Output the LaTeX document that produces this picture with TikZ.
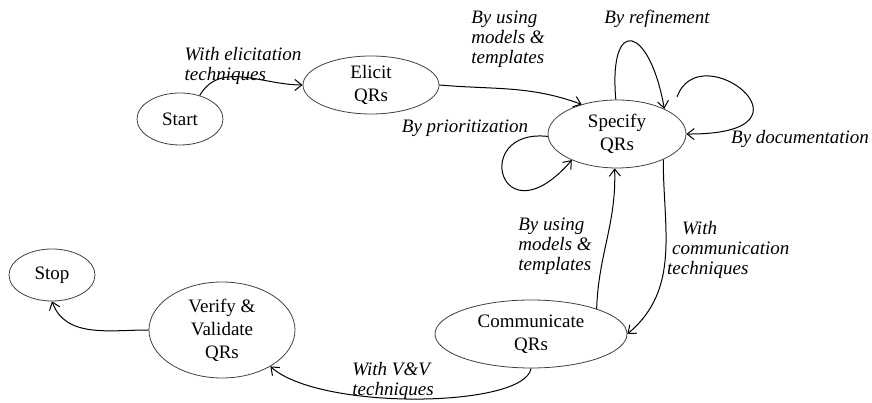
\documentclass[tikz,border=0pt]{standalone}
\usepackage{fontspec}
\setmainfont{Liberation Serif}
\usetikzlibrary{shapes.geometric, arrows.meta}
\tikzstyle{qrstate} = [ellipse, draw=black!75, line width=0.8pt, inner sep=0pt, align=center, font=\fontsize{19}{23}\selectfont]
\tikzstyle{how} = [align=left, inner sep=0pt, font=\itshape\fontsize{19}{20}\selectfont]
\tikzstyle{arrow} = [line width=1pt,->,>={Straight Barb[length=7pt,width=11pt]}]

\begin{document}
\begin{tikzpicture}[x=1pt, y=1pt]
\useasboundingbox (0,0) rectangle (872,403);

% States of the QR process
\node (start) [qrstate, minimum width=86, minimum height=52] at (180,284) {Start};
\node (elicit) [qrstate, minimum width=136, minimum height=58] at (371,318) {Elicit\\QRs};
\node (specify) [qrstate, minimum width=138, minimum height=68] at (617,269) {Specify\\QRs};
\node (communicate) [qrstate, minimum width=192, minimum height=68] at (531,69) {Communicate\\QRs};
\node (verify) [qrstate, minimum width=146, minimum height=96] at (222,73) {Verify \&\\Validate\\QRs};
\node (stop) [qrstate, minimum width=86, minimum height=52] at (52,128) {Stop};

% Labels of the transitions
\node (howElicit) [how] at (243,337) {With elicitation\\techniques};
\node (howModels) [how] at (508,364) {By using\\models \&\\templates};
\node (howRefine) [how] at (657,384) {By refinement};
\node (howDoc) [how] at (800,264) {By documentation};
\node (howPrior) [how] at (465,275) {By prioritization};
\node (howModelsBack) [how] at (555,157) {By using\\models \&\\templates};
\node (howComm) [how, anchor=west] at (667,153) {\hspace{15pt}With\\\hspace{5pt}communication\\techniques};
\node (howVV) [how] at (393,22) {With V\&V\\techniques};

% free end of the documentation loop
\coordinate (docStart) at (677,306);

% Arrows
\draw [arrow] (start.50) to[out=60, in=180] (elicit.west);
\draw [arrow] (elicit.east) to[out=-5, in=160] (specify.140);

% Loops on Specify
\draw [arrow] (specify.92) .. controls +(95:85) and +(100:85) .. (specify.28);
\draw [arrow] (docStart) .. controls (700,370) and (830,268) .. (specify.east);
\draw [arrow] (specify.182) .. controls (470,275) and (500,160) .. (specify.210);

% Specify <-> Communicate
\draw [arrow] (communicate.21) to[out=88, in=-88] (specify.266);
\draw [arrow] (specify.331) to[out=-90, in=40] (communicate.east);

% Towards the end
\draw [arrow] (communicate.south) .. controls (525,-5) and (320,-8) .. (verify.323);
\draw [arrow] (verify.west) to[out=180, in=-70] (stop.south);

\end{tikzpicture}
\end{document}
